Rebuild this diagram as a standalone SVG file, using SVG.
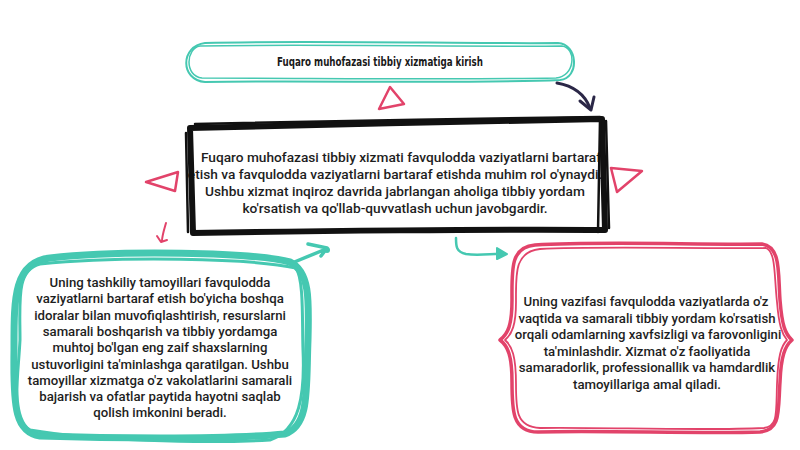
<svg xmlns="http://www.w3.org/2000/svg" width="800" height="450" viewBox="0 0 800 450">
<style>
.t{font-family:Roboto,"Liberation Sans",sans-serif;font-size:13.2px;font-weight:500;fill:#1e1e1e;text-anchor:middle}
.m{font-size:13.7px}
.title{font-family:"DejaVu Sans Condensed","DejaVu Sans",sans-serif;font-size:12.5px;font-weight:bold;fill:#1a1a1a;text-anchor:middle}
.teal{fill:none;stroke:#45c8b1;stroke-linecap:round;stroke-linejoin:round}
.pink{fill:none;stroke:#e2436a;stroke-linecap:round;stroke-linejoin:round}
.ink{fill:none;stroke:#111;stroke-linecap:round;stroke-linejoin:round}
</style>
<rect width="800" height="450" fill="#ffffff"/>

<g id="title-node">
<path class="teal" stroke-width="2" stroke="#6fd5c5" d="M205,43 C300,40 480,44 558,43 C578,44 580,78 560,80 C470,84 300,80 205,82 C180,80 180,46 205,43 Z"/>
<path class="teal" stroke-width="1.5" stroke="#8adccf" d="M200,46 C300,44 480,47 562,46 C577,48 575,77 556,78 C470,80 300,78 202,78 C184,76 186,48 200,46 Z"/>
<text class="title" x="380" y="65.5" textLength="206" lengthAdjust="spacingAndGlyphs">Fuqaro muhofazasi tibbiy xizmatiga kirish</text>
</g>

<g id="main-node">
<text class="t m" x="401" y="162">Fuqaro muhofazasi tibbiy xizmati favqulodda vaziyatlarni bartaraf</text>
<text class="t m" x="395" y="179">etish va favqulodda vaziyatlarni bartaraf etishda muhim rol o'ynaydi.</text>
<text class="t m" x="395" y="196">Ushbu xizmat inqiroz davrida jabrlangan aholiga tibbiy yordam</text>
<text class="t m" x="395" y="213">ko'rsatish va qo'llab-quvvatlash uchun javobgardir.</text>
<path class="ink" stroke-width="6" d="M190,128 C300,125 500,121 602,119 L605,230 C500,229 300,231 193,233 L190,128"/>
<path class="ink" stroke-width="2.5" d="M186,133 L188,232 M600,120 L598,232 M606,121 L609,228 M195,124 C300,122 480,118 600,117"/>
</g>

<g id="left-node">
<path class="teal" stroke-width="7" d="M50,258 C120,250 250,252 290,262 C310,272 309,300 308,340 C306,390 310,425 285,434 C220,440 100,438 40,436 C16,432 13,410 14,350 C14,300 13,262 50,258 Z"/>
<path class="teal" stroke-width="3" d="M40,264 C120,256 250,258 296,268 C304,280 302,320 303,350 C305,395 300,430 270,440 C200,444 90,440 30,430 C10,420 18,380 20,340 C20,300 16,270 40,264"/>
<text class="t" x="160" y="287">Uning tashkiliy tamoyillari favqulodda</text>
<text class="t" x="160" y="303">vaziyatlarni bartaraf etish bo'yicha boshqa</text>
<text class="t" x="160" y="319.5">idoralar bilan muvofiqlashtirish, resurslarni</text>
<text class="t" x="160" y="336">samarali boshqarish va tibbiy yordamga</text>
<text class="t" x="160" y="352">muhtoj bo'lgan eng zaif shaxslarning</text>
<text class="t" x="160" y="368.5">ustuvorligini ta'minlashga qaratilgan. Ushbu</text>
<text class="t" x="160" y="385">tamoyillar xizmatga o'z vakolatlarini samarali</text>
<text class="t" x="160" y="401">bajarish va ofatlar paytida hayotni saqlab</text>
<text class="t" x="160" y="417">qolish imkonini beradi.</text>
</g>

<g id="right-node">
<path class="pink" stroke-width="3.5" d="M535,245 C600,241 700,245 762,244 C781,247 778,272 780,300 C782,325 785,334 792,340 C785,346 781,356 780,382 C778,412 781,430 760,432 C700,434 600,430 538,432 C512,432 512,410 512,382 C512,356 508,346 500,340 C508,334 512,325 512,300 C512,270 510,247 535,245 Z"/>
<path class="pink" stroke-width="1.8" d="M540,249 C600,246 700,249 766,248 C776,252 774,275 777,302 C779,326 782,334 787,340 C781,346 778,356 777,384 C776,414 778,426 764,428 C700,431 600,427 540,428 C516,427 516,410 516,384 C516,356 512,346 505,340 C512,334 516,325 516,302 C516,274 514,252 540,249"/>
<text class="t" x="646" y="306">Uning vazifasi favqulodda vaziyatlarda o'z</text>
<text class="t" x="647" y="322.5">vaqtida va samarali tibbiy yordam ko'rsatish</text>
<text class="t" x="648" y="339">orqali odamlarning xavfsizligi va farovonligini</text>
<text class="t" x="647" y="355.5">ta'minlashdir. Xizmat o'z faoliyatida</text>
<text class="t" x="647" y="372">samaradorlik, professionallik va hamdardlik</text>
<text class="t" x="647" y="388.5">tamoyillariga amal qiladi.</text>
</g>

<g id="connectors">
<path fill="none" stroke="#2b2747" stroke-width="3" stroke-linecap="round" d="M557,83 C574,86 585,95 590,108"/>
<path fill="none" stroke="#2b2747" stroke-width="3" stroke-linecap="round" stroke-linejoin="round" d="M580,101 L591,110 L594,97"/>
<path class="pink" stroke-width="2.5" d="M390,87 L379,109 L404,104 Z"/>
<path class="pink" stroke-width="2.5" d="M146,182 L178,172 L175,191 Z"/>
<path class="pink" stroke-width="2.5" d="M611,168 L642,171 L617,192 Z"/>
<path class="pink" stroke-width="2" d="M166,223 C164,230 162,236 162,241 M157,236 L161,242 L167,240"/>
<path class="teal" stroke-width="3.5" d="M292,263 L326,249 M308,244 L327,248 L321,256"/>
<circle cx="327" cy="250" r="3" fill="#45c8b1"/>
<path class="teal" stroke-width="2.5" d="M456,238 C456,246 456,252 466,254 C480,256 495,253 505,254"/>
<path d="M497,248 L507,254 L497,259 Z" fill="#45c8b1" stroke="#45c8b1" stroke-width="2" stroke-linejoin="round"/>
</g>
</svg>
